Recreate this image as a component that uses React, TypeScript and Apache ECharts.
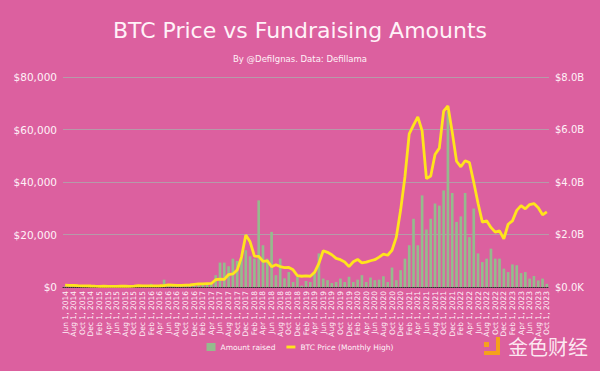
import React, { useEffect, useRef } from "react";
import * as echarts from "echarts";

// Months Jun 2014 .. Oct 2023
const MONTH_NAMES = ["Jan", "Feb", "Mar", "Apr", "May", "Jun", "Jul", "Aug", "Sep", "Oct", "Nov", "Dec"];
const START_YEAR = 2014;
const START_MONTH = 5; // Jun
const MONTH_COUNT = 113;
const categories: string[] = [];
for (let k = 0; k < MONTH_COUNT; k++) {
  const m = (START_MONTH + k) % 12;
  const y = START_YEAR + Math.floor((START_MONTH + k) / 12);
  categories.push(`${MONTH_NAMES[m]} 1, ${y}`);
}

// BTC monthly high (USD)
const btc2014 = [680, 650, 600, 500, 415, 450, 380];
const btc2015 = [320, 265, 300, 260, 250, 270, 315, 285, 245, 330, 500, 465];
const btc2016 = [460, 440, 440, 470, 550, 780, 700, 620, 630, 720, 760, 980];
const btc2017 = [1150, 1200, 1290, 1350, 2760, 2980, 2920, 4750, 4980, 6450, 11400, 19800];
const btc2018 = [17200, 11800, 11700, 9750, 9990, 7750, 8500, 7780, 7400, 7450, 6550, 4300];
const btc2019 = [4100, 4200, 4100, 5600, 9000, 13800, 13200, 12300, 10900, 10400, 9500, 7750];
const btc2020 = [9600, 10500, 9200, 9450, 10000, 10400, 11400, 12500, 12100, 14000, 19000, 29300];
const btc2021 = [41900, 58300, 61700, 64800, 59500, 41300, 42300, 50500, 52900, 67000, 69000, 59000];
const btc2022 = [47900, 45800, 48100, 47400, 39900, 31900, 24700, 25200, 22700, 20900, 21400, 18300];
const btc2023 = [23900, 25200, 29200, 31000, 29800, 31400, 31800, 30200, 27500, 28600];

// Amount raised ($B)
const raised2014 = [0.02, 0.03, 0.02, 0.03, 0.02, 0.03, 0.02];
const raised2015 = [0.03, 0.02, 0.03, 0.02, 0.03, 0.04, 0.03, 0.02, 0.03, 0.04, 0.03, 0.03];
const raised2016 = [0.03, 0.12, 0.04, 0.05, 0.28, 0.05, 0.04, 0.05, 0.04, 0.06, 0.05, 0.07];
const raised2017 = [0.06, 0.08, 0.1, 0.15, 0.45, 0.93, 0.93, 0.79, 1.08, 0.99, 1.1, 1.4];
const raised2018 = [1.17, 1.08, 3.3, 1.59, 1.08, 2.1, 0.45, 1.08, 0.33, 0.57, 0.19, 0.38];
const raised2019 = [0.05, 0.23, 0.19, 0.51, 1.28, 0.32, 0.26, 0.15, 0.19, 0.32, 0.19, 0.39];
const raised2020 = [0.19, 0.28, 0.45, 0.19, 0.36, 0.26, 0.28, 0.41, 0.19, 0.74, 0.26, 0.64];
const raised2021 = [1.08, 1.59, 2.6, 1.59, 3.49, 2.19, 2.6, 3.18, 3.1, 3.68, 6.7, 3.58];
const raised2022 = [2.48, 2.69, 3.58, 1.9, 2.99, 1.28, 0.95, 1.08, 1.46, 1.08, 1.08, 0.7];
const raised2023 = [0.57, 0.86, 0.83, 0.53, 0.57, 0.32, 0.42, 0.25, 0.32, 0.12];

const btcHigh = [
  ...btc2014, ...btc2015, ...btc2016, ...btc2017, ...btc2018,
  ...btc2019, ...btc2020, ...btc2021, ...btc2022, ...btc2023,
];
const amountRaised = [
  ...raised2014, ...raised2015, ...raised2016, ...raised2017, ...raised2018,
  ...raised2019, ...raised2020, ...raised2021, ...raised2022, ...raised2023,
];

const TITLE = "BTC Price vs Fundraising Amounts";
const SUBTITLE = "By @DefiIgnas. Data: Defillama";
const SERIES_BARS = "Amount raised";
const SERIES_LINE = "BTC Price (Monthly High)";

const FONT = "'Comic Sans MS', 'DejaVu Sans', sans-serif";
const BG = "#DC609F";
const TXT = "#FFF2F8";
const LINE_COLOR = "#FFE41C";

export default function App() {
  const ref = useRef<HTMLDivElement>(null);
  useEffect(() => {
    document.body.style.margin = "0";
    if (!ref.current) return;
    const chart = echarts.init(ref.current, null, { renderer: "svg" });
    chart.setOption({
      animation: false,
      backgroundColor: BG,
      textStyle: { fontFamily: FONT },
      title: [
        {
          text: TITLE,
          left: "center",
          top: 14,
          textStyle: { color: TXT, fontSize: 22, fontWeight: "normal", fontFamily: FONT },
        },
        {
          text: SUBTITLE,
          left: "center",
          top: 49,
          textStyle: { color: TXT, fontSize: 8.5, fontWeight: "normal", fontFamily: FONT },
        },
      ],
      legend: {
        bottom: 15,
        left: "center",
        itemGap: 11,
        itemWidth: 9,
        itemHeight: 8,
        textStyle: { color: TXT, fontSize: 7.5, fontFamily: FONT },
        data: [
          { name: SERIES_BARS, icon: "rect" },
          { name: SERIES_LINE, icon: "path://M0,0 L10,0 L10,3.2 L0,3.2 Z", itemStyle: { color: LINE_COLOR } },
        ],
      },
      grid: { left: 63, right: 51, top: 77, bottom: 84 },
      xAxis: {
        type: "category",
        data: categories,
        axisLine: { lineStyle: { color: "#3a2a30", type: "dotted", width: 1 } },
        axisTick: { show: false },
        axisLabel: {
          interval: 1,
          rotate: 90,
          color: TXT,
          fontSize: 7.5,
          margin: 4,
          fontFamily: FONT,
        },
      },
      yAxis: [
        {
          type: "value",
          min: 0,
          max: 80000,
          interval: 20000,
          axisLine: { show: false },
          axisTick: { show: false },
          splitLine: { lineStyle: { color: "rgba(175,165,170,0.85)", width: 1 } },
          axisLabel: {
            color: TXT,
            fontSize: 10.5,
            margin: 6,
            fontFamily: FONT,
            formatter: (v: number) => "$" + v.toLocaleString("en-US"),
          },
        },
        {
          type: "value",
          min: 0,
          max: 8,
          interval: 2,
          axisLine: { show: false },
          axisTick: { show: false },
          splitLine: { show: false },
          axisLabel: {
            color: TXT,
            fontSize: 10,
            margin: 6,
            fontFamily: FONT,
            formatter: (v: number) => (v === 0 ? "$0.0K" : "$" + v.toFixed(1) + "B"),
          },
        },
      ],
      series: [
        {
          name: SERIES_BARS,
          type: "bar",
          yAxisIndex: 1,
          data: amountRaised,
          barWidth: "62%",
          itemStyle: { color: "#95BB8D" },
          z: 2,
        },
        {
          name: SERIES_LINE,
          type: "line",
          yAxisIndex: 0,
          data: btcHigh,
          symbol: "none",
          lineStyle: { color: LINE_COLOR, width: 2.8 },
          itemStyle: { color: LINE_COLOR },
          z: 3,
        },
      ],
      graphic: [
        { type: "rect", shape: { x: 484, y: 342, width: 5, height: 5 }, style: { fill: "#F5A11C" } },
        { type: "rect", shape: { x: 496, y: 337, width: 4, height: 18 }, style: { fill: "#F5A11C" } },
        { type: "rect", shape: { x: 484, y: 351, width: 16, height: 4 }, style: { fill: "#F5A11C" } },
        {
          type: "text",
          x: 508,
          y: 346,
          style: {
            text: "金色财经",
            fill: "rgba(255,245,250,0.92)",
            font: "20px 'Noto Sans CJK SC'",
            textVerticalAlign: "middle",
          },
        },
      ],
    });
    return () => chart.dispose();
  }, []);
  return <div ref={ref} style={{ width: 600, height: 371 }} />;
}
